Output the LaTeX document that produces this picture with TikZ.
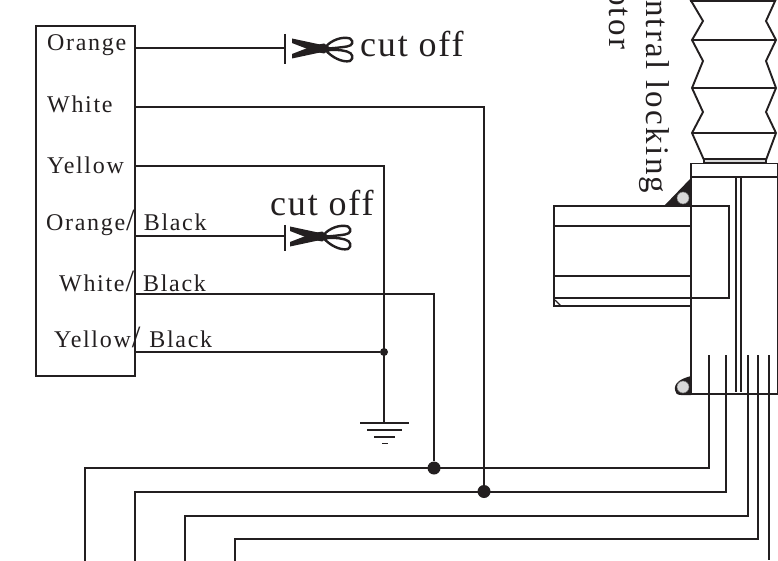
\documentclass[tikz,border=0pt]{standalone}
\usepackage{fontspec}
\setmainfont{Liberation Serif}
\newfontfamily\wirefont[LetterSpace=7]{Liberation Serif}
\newfontfamily\cutfont[LetterSpace=5]{Liberation Serif}
\usetikzlibrary{positioning,calc}
\definecolor{ink}{HTML}{231F20}
\newcommand{\wireslash}{\hspace{1pt}{\fontsize{31}{31}\selectfont/}\hspace{9pt}}

\begin{document}
\begin{tikzpicture}[
		x=1pt, y=-1pt,
		every node/.style={text=ink, inner sep=0pt},
		wire/.style={draw=ink, line width=1.9pt},
		thin wire/.style={draw=ink, line width=1.4pt},
		box/.style={draw=ink, line width=2pt, minimum width=99pt, minimum height=350pt},
		colour label/.style={anchor=base west, font=\wirefont\fontsize{24}{24}\selectfont},
		cut label/.style={anchor=base west, font=\cutfont\fontsize{36}{36}\selectfont},
		side label/.style={anchor=north west, rotate=-90, font=\wirefont\fontsize{33}{33}\selectfont},
		big dot/.style={circle, fill=ink, minimum size=13pt},
		small dot/.style={circle, fill=ink, minimum size=8pt},
		grey pin/.style={circle, fill=black!15, draw=black!55, line width=.5pt, minimum size=12pt},
		cutter/.pic={
				\fill[ink] (-28,-10) -- (-28,-5.5) -- (-6,3) -- (4,5) -- (10,1) -- (8,-2) -- (0,-4) -- cycle;
				\fill[ink] (-28,10) -- (-28,5.5) -- (-6,-3) -- (4,-5) -- (10,-1) -- (8,2) -- (0,4) -- cycle;
				\draw[ink, line width=2.4pt] (6,-2) .. controls (11,-8) and (22,-12.5) .. (30,-10) .. controls (34,-7) and (33,-3) .. (27,-2) .. controls (20,-1) and (12,0) .. (6,0);
				\draw[ink, line width=2.4pt] (6,2) .. controls (12,1) and (20,1) .. (27,3) .. controls (33,4.5) and (34,10) .. (30,12.5) .. controls (22,14.5) and (11,8) .. (6,2);
			}
	]
	\clip (0,0) rectangle (778,561);
	\fill[white] (0,0) rectangle (778,561);

	% connector box
	\node[box] (plug) at (85.5,201) {};
	\node[colour label] (lOrange) at (47,51) {Orange};
	\node[colour label] (lWhite) at (47,113) {White};
	\node[colour label] (lYellow) at (47,174) {Yellow};
	\node[colour label] (lOrangeBlack) at (46,230) {Orange\wireslash Black};
	\node[colour label] (lWhiteBlack) at (59,291) {White\wireslash Black};
	\node[colour label] (lYellowBlack) at (54,347) {Yellow\wireslash Black};

	% pins on the box
	\coordinate (pOrange) at (135,48);
	\coordinate (pWhite) at (135,107);
	\coordinate (pYellow) at (135,166);
	\coordinate (pOrangeBlack) at (135,236);
	\coordinate (pWhiteBlack) at (135,294);
	\coordinate (pYellowBlack) at (135,352);

	% cut wires
	\coordinate (cutA) at (285,48);
	\coordinate (cutB) at (285,236);
	\draw[wire] (pOrange) -- (cutA);
	\draw[wire] (pOrangeBlack) -- (cutB);
	\draw[wire] ($(cutA)+(0,-14)$) -- ($(cutA)+(0,16)$);
	\draw[wire] ($(cutB)+(0,-11)$) -- ($(cutB)+(0,15)$);
	\pic at (320,48.5) {cutter};
	\pic at (318,236.5) {cutter};
	\node[cut label] (cutTextA) at (360,57) {cut off};
	\node[cut label] (cutTextB) at (270,215) {cut off};

	% ground
	\node[small dot] (gndJoin) at (384,352) {};
	\coordinate (gndTop) at (384,423);
	\draw[wire] (pYellowBlack) -- (gndJoin);
	\draw[wire] (pYellow) -| (gndTop);
	\draw[wire] (360,423) -- (409,423);
	\draw[wire] (367,430) -- (402,430);
	\draw[wire] (374,437) -- (395,437);
	\draw[wire] (382,443.5) -- (388,443.5);

	% harness
	\coordinate (busA) at (709,355);
	\coordinate (busB) at (726,355);
	\coordinate (busC) at (748,355);
	\coordinate (busD) at (758,355);
	\coordinate (busE) at (769,355);
	\draw[wire] (85,561) |- (busA |- 0,468) -- (busA);
	\draw[wire] (135,561) |- (busB |- 0,492) -- (busB);
	\draw[wire] (185,561) |- (busC |- 0,516) -- (busC);
	\draw[wire] (235,561) |- (busD |- 0,539) -- (busD);
	\draw[wire] (busE) -- (769,560);
	\node[big dot] (joinA) at (434,468) {};
	\node[big dot] (joinB) at (484,491.5) {};
	\draw[wire] (pWhiteBlack) -| (joinA);
	\draw[wire] (pWhite) -| (joinB);

	% bellows
	\draw[wire] (690,-1) -- (703,21) -- (692,40) -- (703,61) -- (692,88) -- (703,112) -- (692,133) -- (704,160);
	\draw[wire] (776,-1) -- (766,21) -- (776,40) -- (766,61) -- (776,88) -- (766,112) -- (776,133) -- (766,160);
	\draw[wire] (692,40) -- (776,40);
	\draw[thin wire] (692,88) -- (776,88);
	\draw[wire] (692,133) -- (776,133);
	\draw[wire] (690,1) -- (776,1);
	\draw[thin wire, fill=black!15] (704,159) rectangle (766,163);

	% actuator body
	\draw[wire] (691,163.5) rectangle (777.5,177);
	\draw[wire] (691,177) -- (691,394);
	\draw[wire] (683,394) -- (778,394);
	\draw[thin wire] (777.5,177) -- (777.5,394);
	\draw[wire] (736,177) -- (736,392);
	\draw[wire] (741,177) -- (741,392);

	% motor on the side
	\draw[wire] (691,206) -- (554,206) -- (554,306) -- (691,306);
	\draw[wire] (691,206) -- (729,206) -- (729,298) -- (554,298);
	\draw[wire] (554,226) -- (691,226);
	\draw[wire] (554,276) -- (691,276);
	\draw[thin wire] (555,300) -- (561,306);

	% brackets
	\fill[ink] (664,206) -- (691,178) -- (691,206) -- cycle;
	\node[grey pin] (pinTop) at (683,198) {};
	\fill[ink] (691,376) .. controls (680,379) and (674,383) .. (675,390) .. controls (675,393) and (677,395) .. (681,395) -- (691,395) -- cycle;
	\node[grey pin] (pinLow) at (683,387) {};

	% rotated text
	\node[side label] (sideA) at (670,0) {ntral locking};
	\node[side label] (sideB) at (628,-11) {otor};
\end{tikzpicture}
\end{document}
